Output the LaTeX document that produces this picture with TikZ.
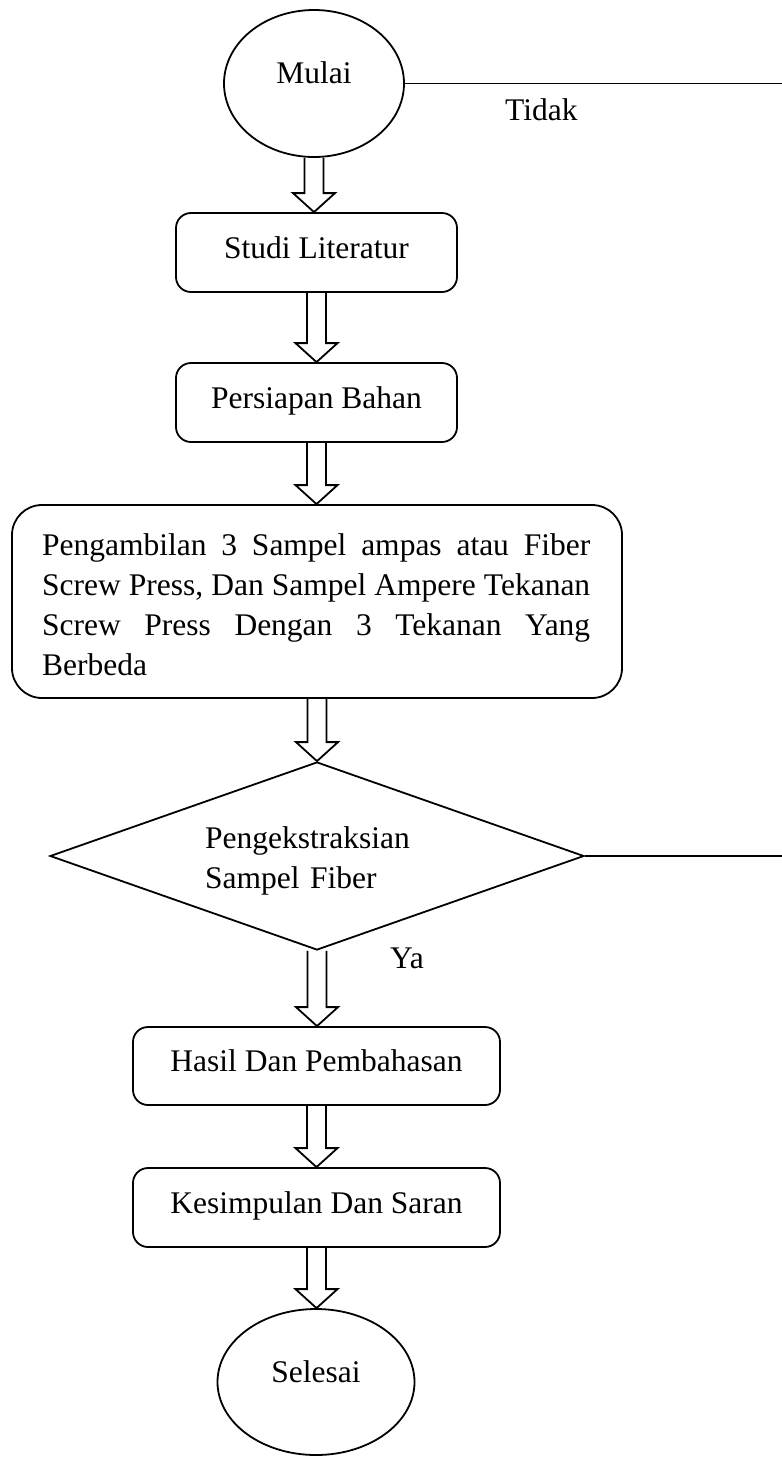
\documentclass[tikz,border=0pt]{standalone}
\usepackage{fontspec}
\setmainfont{Liberation Serif}
\usetikzlibrary{shapes.geometric,calc}
\begin{document}
\begin{tikzpicture}[x=1pt,y=-1pt,
  every node/.style={font=\fontsize{31.5}{40}\selectfont},
  shp/.style={draw, line width=1.8pt, inner sep=0pt},
  procbox/.style={shp, rectangle, rounded corners=15pt, text height=22pt, text depth=11pt},
  term/.style={shp, ellipse, text height=12pt, text depth=12pt},
  plain/.style={inner sep=0pt},
  hollow/.style={line width=1.8pt, to path={let \p1=(\tikztostart), \p2=(\tikztotarget) in
      (\x1-9.5pt,\y1) -- (\x1-9.5pt,\y2+19pt) -- (\x1-21pt,\y2+19pt) -- (\x1,\y2)
      -- (\x1+21pt,\y2+19pt) -- (\x1+9.5pt,\y2+19pt) -- (\x1+9.5pt,\y1)}},
  thinline/.style={line width=1.2pt}]
\useasboundingbox (0,0) rectangle (782,1457);

\node[term, minimum width=180pt, minimum height=147pt] (mulai) at (314,83.5) {Mulai};
\node[procbox, minimum width=281pt, minimum height=79pt] (studi) at (316.5,252.5) {Studi Literatur};
\node[procbox, minimum width=281pt, minimum height=79pt] (bahan) at (316.5,402.5) {Persiapan Bahan};
\node[shp, rectangle, rounded corners=30pt, minimum width=610pt, minimum height=193pt] (ambil) at (317,601.5) {};
\node[plain, anchor=north west, text width=548pt, align=justify] (ambilT) at (42,533.5)
  {Pengambilan 3 Sampel ampas atau Fiber\linebreak Screw Press, Dan Sampel Ampere Tekanan\linebreak Screw Press Dengan 3 Tekanan Yang\linebreak Berbeda};
\node[shp, diamond, minimum width=534pt, minimum height=188pt] (cek) at (317,856) {};
\node[plain, anchor=north west, text width=300pt, align=left] (cekT) at (205,826.5) {Pengekstraksian\\Sampel Fiber};
\node[procbox, minimum width=367pt, minimum height=78pt] (hasil) at (316.5,1066) {Hasil Dan Pembahasan};
\node[procbox, minimum width=367pt, minimum height=79pt] (simpul) at (316.5,1207.5) {Kesimpulan Dan Saran};
\node[term, minimum width=197pt, minimum height=146pt] (selesai) at (316,1382) {Selesai};

\node[plain, anchor=base west] (tidak) at (505,120) {Tidak};
\node[plain, anchor=base west] (ya) at (390,968) {Ya};

\coordinate (e1) at (782,83.5);
\coordinate (e2) at (782,856);
\draw[thinline] (mulai.east) -- (e1);
\draw[thinline] (cek.east) -- (e2);

\draw[hollow] (mulai.south) to (studi.north);
\draw[hollow] (studi.south) to (bahan.north);
\draw[hollow] (bahan.south) to (ambil.north);
\draw[hollow] (ambil.south) to (cek.north);
\draw[hollow] (cek.south) to (hasil.north);
\draw[hollow] (hasil.south) to (simpul.north);
\draw[hollow] (simpul.south) to (selesai.north);
\end{tikzpicture}
\end{document}
